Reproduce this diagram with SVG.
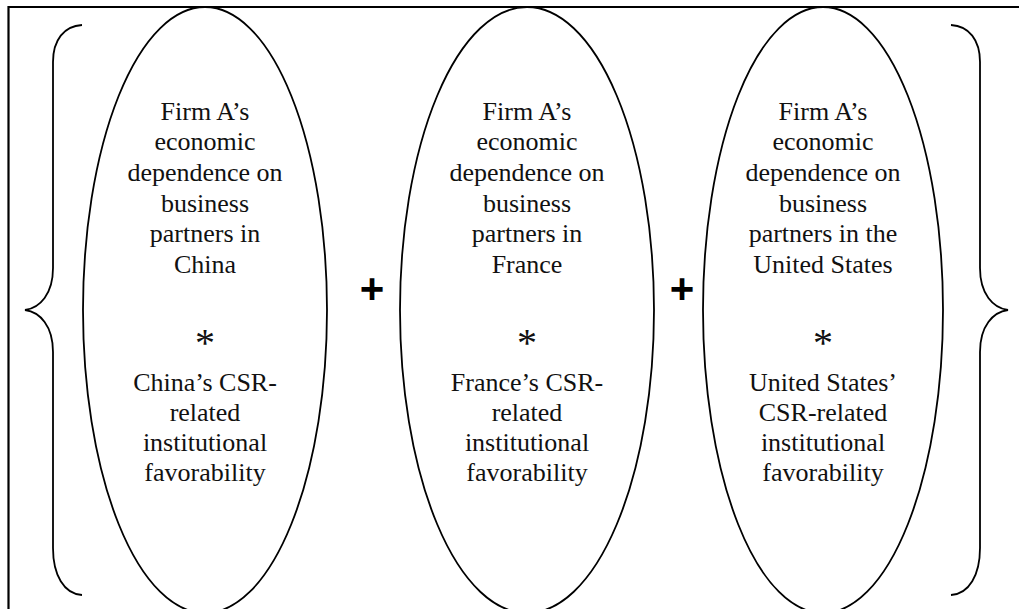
<svg xmlns="http://www.w3.org/2000/svg" width="1019" height="609" viewBox="0 0 1019 609">
  <style>
    .frame { fill: none; stroke: #000; stroke-width: 2.2; }
    .brace { fill: none; stroke: #000; stroke-width: 1.8; }
    .oval { fill: none; stroke: #000; stroke-width: 1.8; }
    .lbl { font-family: "Liberation Serif", "Times New Roman", serif; font-size: 26px; fill: #111; text-anchor: middle; }
    .star { font-family: "Liberation Serif", "Times New Roman", serif; font-size: 40px; fill: #111; text-anchor: middle; }
    .plus { font-family: "Liberation Sans", Arial, sans-serif; font-weight: bold; font-size: 42px; fill: #000; text-anchor: middle; }
  </style>
  <rect width="1019" height="609" fill="#fff"/>

  <!-- outer frame (continues past the right and bottom edges) -->
  <path class="frame" d="M 8.5 620 V 7 H 1030"/>

  <!-- curly braces -->
  <g id="brace-left">
    <path class="brace" d="M 82 25 C 64 26, 53 40, 53 62 L 53 268 C 53 294, 40 308, 25 310 C 40 312, 53 326, 53 352 L 53 548 C 53 575, 64 594, 82 595"/>
  </g>
  <g id="brace-right">
    <path class="brace" d="M 951 25 C 969 26, 980 40, 980 62 L 980 268 C 980 294, 993 308, 1008 310 C 993 312, 980 326, 980 352 L 980 548 C 980 575, 969 594, 951 595"/>
  </g>

  <!-- China term -->
  <g id="term-china">
    <ellipse class="oval" cx="205" cy="310" rx="122" ry="303"/>
    <text class="lbl" x="205" y="120">Firm A’s</text>
    <text class="lbl" x="205" y="150">economic</text>
    <text class="lbl" x="205" y="181">dependence on</text>
    <text class="lbl" x="205" y="212">business</text>
    <text class="lbl" x="205" y="242">partners in</text>
    <text class="lbl" x="205" y="273">China</text>
    <text class="star" x="205" y="356">*</text>
    <text class="lbl" x="205" y="391">China’s CSR-</text>
    <text class="lbl" x="205" y="421">related</text>
    <text class="lbl" x="205" y="451">institutional</text>
    <text class="lbl" x="205" y="481">favorability</text>
  </g>

  <!-- France term -->
  <g id="term-france">
    <ellipse class="oval" cx="527" cy="310" rx="127" ry="303"/>
    <text class="lbl" x="527" y="120">Firm A’s</text>
    <text class="lbl" x="527" y="150">economic</text>
    <text class="lbl" x="527" y="181">dependence on</text>
    <text class="lbl" x="527" y="212">business</text>
    <text class="lbl" x="527" y="242">partners in</text>
    <text class="lbl" x="527" y="273">France</text>
    <text class="star" x="527" y="356">*</text>
    <text class="lbl" x="527" y="391">France’s CSR-</text>
    <text class="lbl" x="527" y="421">related</text>
    <text class="lbl" x="527" y="451">institutional</text>
    <text class="lbl" x="527" y="481">favorability</text>
  </g>

  <!-- United States term -->
  <g id="term-us">
    <ellipse class="oval" cx="823" cy="310" rx="120" ry="303"/>
    <text class="lbl" x="823" y="120">Firm A’s</text>
    <text class="lbl" x="823" y="150">economic</text>
    <text class="lbl" x="823" y="181">dependence on</text>
    <text class="lbl" x="823" y="212">business</text>
    <text class="lbl" x="823" y="242">partners in the</text>
    <text class="lbl" x="823" y="273">United States</text>
    <text class="star" x="823" y="356">*</text>
    <text class="lbl" x="823" y="391">United States’</text>
    <text class="lbl" x="823" y="421">CSR-related</text>
    <text class="lbl" x="823" y="451">institutional</text>
    <text class="lbl" x="823" y="481">favorability</text>
  </g>

  <!-- operators between terms -->
  <g id="operators">
    <text class="plus" x="372" y="303">+</text>
    <text class="plus" x="682" y="303">+</text>
  </g>
</svg>
